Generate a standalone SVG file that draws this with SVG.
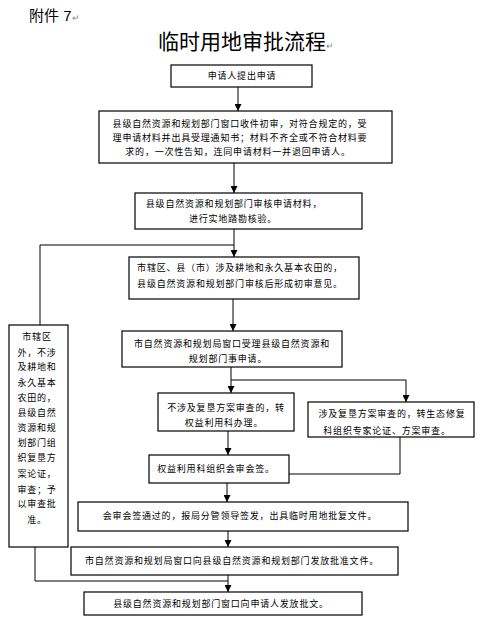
<svg xmlns="http://www.w3.org/2000/svg" width="493" height="637" viewBox="0 0 493 637">
<defs>
<style>
.box{fill:#fff;stroke:#000;stroke-width:1.2}
.t{font-family:"Liberation Sans","Noto Sans CJK SC",sans-serif;font-size:9px;letter-spacing:0.8px;fill:#000;text-anchor:middle}
.ln{fill:none;stroke:#000;stroke-width:1}
.pm{fill:#888}
</style>
<marker id="ah" viewBox="0 0 8 8" refX="8" refY="4" markerWidth="7" markerHeight="7" markerUnits="userSpaceOnUse" orient="auto">
<path d="M0,0 L8,4 L0,8 Z" fill="#000"/>
</marker>
</defs>
<rect width="493" height="637" fill="#fff"/>
<text x="29" y="21" font-family="'Liberation Sans','Noto Sans CJK SC',sans-serif" font-size="15" fill="#000">附件 7<tspan class="pm" font-size="9">↵</tspan></text>
<text x="158" y="49" font-family="'Liberation Sans','Noto Sans CJK SC',sans-serif" font-size="21" fill="#000">临时用地审批流程<tspan class="pm" font-size="9">↵</tspan></text>

<g id="connectors">
<line class="ln" x1="238" y1="87" x2="238" y2="111" marker-end="url(#ah)"/>
<line class="ln" x1="234" y1="163" x2="234" y2="193" marker-end="url(#ah)"/>
<line class="ln" x1="234" y1="229" x2="234" y2="257" marker-end="url(#ah)"/>
<polyline class="ln" points="40,325 40,245 234,245"/>
<line class="ln" x1="233" y1="299" x2="233" y2="331" marker-end="url(#ah)"/>
<polyline class="ln" points="231,367 231,380 406,380"/>
<line class="ln" x1="231" y1="380" x2="231" y2="393" marker-end="url(#ah)"/>
<line class="ln" x1="406" y1="380" x2="406" y2="402" marker-end="url(#ah)"/>
<line class="ln" x1="228" y1="431" x2="228" y2="455" marker-end="url(#ah)"/>
<polyline class="ln" points="400,437 400,474 289,474"/>
<line class="ln" x1="227" y1="483" x2="227" y2="502" marker-end="url(#ah)"/>
<line class="ln" x1="228" y1="531" x2="228" y2="547" marker-end="url(#ah)"/>
<line class="ln" x1="228" y1="575" x2="228" y2="592" marker-end="url(#ah)"/>
<polyline class="ln" points="35,547 35,581 228,581"/>
</g>

<g id="n1"><rect class="box" x="171" y="65" width="141" height="22"/>
<text class="t" x="242" y="79">申请人提出申请</text></g>

<g id="n2"><rect class="box" x="99" y="111" width="293" height="52"/>
<text class="t" x="240" y="127">县级自然资源和规划部门窗口收件初审，对符合规定的，受</text>
<text class="t" x="240" y="141">理申请材料并出具受理通知书；材料不齐全或不符合材料要</text>
<text class="t" x="238" y="155">求的，一次性告知，连同申请材料一并退回申请人。</text></g>

<g id="n3"><rect class="box" x="135" y="193" width="227" height="36"/>
<text class="t" x="234" y="207">县级自然资源和规划部门审核申请材料，</text>
<text class="t" x="233" y="222">进行实地踏勘核验。</text></g>

<g id="n4"><rect class="box" x="129" y="257" width="230" height="42"/>
<text class="t" x="240" y="271">市辖区、县（市）涉及耕地和永久基本农田的，</text>
<text class="t" x="240" y="287">县级自然资源和规划部门审核后形成初审意见。</text></g>

<g id="n5"><rect class="box" x="122" y="331" width="220" height="36"/>
<text class="t" x="232" y="347">市自然资源和规划局窗口受理县级自然资源和</text>
<text class="t" x="228" y="362">规划部门事申请。</text></g>

<g id="n6"><rect class="box" x="9" y="325" width="59" height="222"/>
<text class="t" x="37" y="340">市辖区</text>
<text class="t" x="37" y="356">外，不涉</text>
<text class="t" x="37" y="370">及耕地和</text>
<text class="t" x="37" y="386">永久基本</text>
<text class="t" x="37" y="401">农田的，</text>
<text class="t" x="37" y="416">县级自然</text>
<text class="t" x="37" y="431">资源和规</text>
<text class="t" x="37" y="446">划部门组</text>
<text class="t" x="37" y="461">织复垦方</text>
<text class="t" x="37" y="477">案论证，</text>
<text class="t" x="37" y="493">审查；予</text>
<text class="t" x="37" y="507">以审查批</text>
<text class="t" x="37" y="523">准。</text></g>

<g id="n7"><rect class="box" x="158" y="393" width="136" height="38"/>
<text class="t" x="226" y="411">不涉及复垦方案审查的，转</text>
<text class="t" x="224" y="426">权益利用科办理。</text></g>

<g id="n8"><rect class="box" x="308" y="402" width="166" height="35"/>
<text class="t" x="392" y="417">涉及复垦方案审查的，转生态修复</text>
<text class="t" x="387" y="434">科组织专家论证、方案审查。</text></g>

<g id="n9"><rect class="box" x="149" y="455" width="140" height="28"/>
<text class="t" x="216" y="472">权益利用科组织会审会签。</text></g>

<g id="n10"><rect class="box" x="78" y="502" width="330" height="29"/>
<text class="t" x="240" y="519">会审会签通过的，报局分管领导签发，出具临时用地批复文件。</text></g>

<g id="n11"><rect class="box" x="71" y="547" width="327" height="28"/>
<text class="t" x="232" y="564">市自然资源和规划局窗口向县级自然资源和规划部门发放批准文件。</text></g>

<g id="n12"><rect class="box" x="84" y="592" width="278" height="23"/>
<text class="t" x="221" y="607">县级自然资源和规划部门窗口向申请人发放批文。</text></g>
</svg>
